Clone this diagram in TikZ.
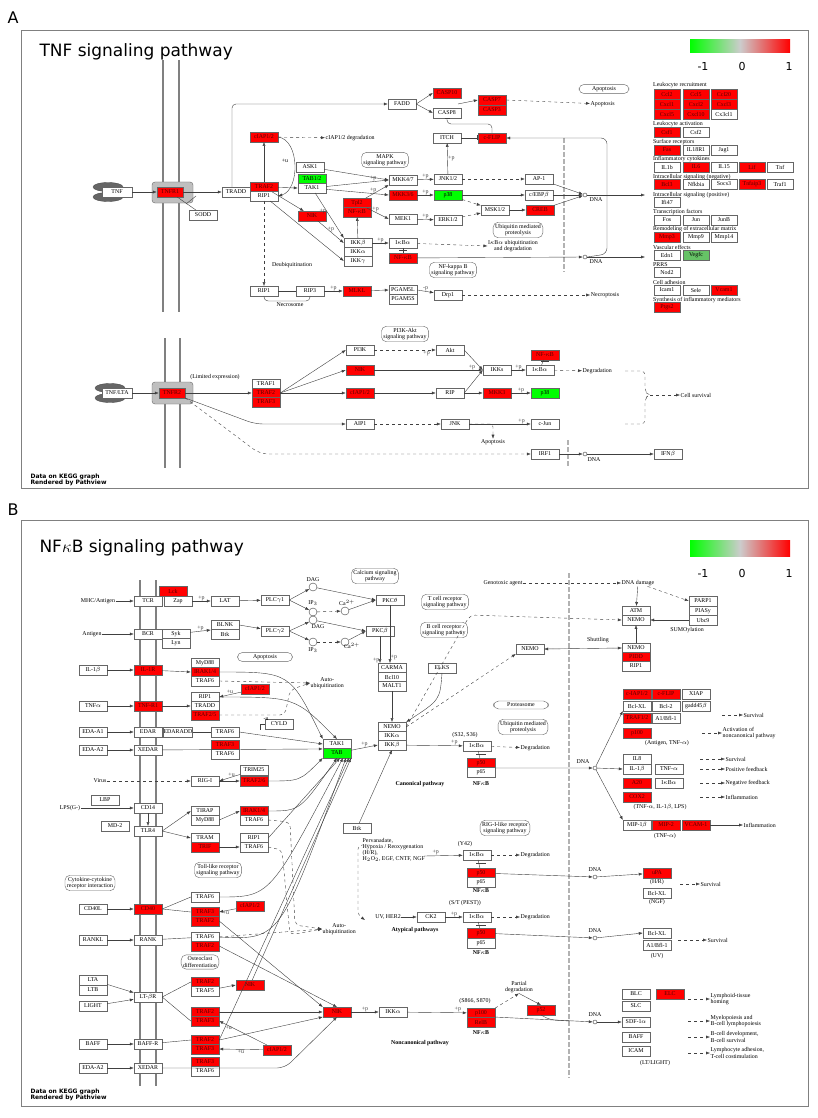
\documentclass[tikz,border=0pt]{standalone}
\usepackage{fontspec}
\setmainfont{Liberation Serif}
\newfontfamily\sansf{DejaVu Sans}
\usetikzlibrary{arrows.meta,shapes.geometric,decorations.pathreplacing}
\newcommand\kf{\fontsize{5.9}{6.1}\selectfont}
\begin{document}
\begin{tikzpicture}[x=1pt,y=-1pt,
 g/.style={draw=black!60,fill=white,minimum width=28pt,minimum height=9.5pt,inner sep=0pt,font=\kf},
 r/.style={g,fill=red,text=red!35!black},
 gr/.style={g,fill=green},
 pw/.style={draw=black!60,rounded corners=5pt,align=center,font=\kf,inner sep=2pt},
 t/.style={font=\kf,inner sep=0.5pt,align=center},
 tb/.style={font=\kf\bfseries,inner sep=0.5pt},
 a/.style={-{Latex[length=4pt,width=3pt]},black!75},
 da/.style={a,dashed},
 ln/.style={black!75},
 inh/.style={-{Bar[width=5pt]},black!75},
 dc/.style={circle,draw=black!75,fill=white,inner sep=0pt,minimum size=4pt},
 mem/.style={black!50,line width=1.3pt},
 lig/.style={ellipse,fill=black!60,draw=black!70,minimum width=30pt,minimum height=9pt,inner sep=0pt},
 rec/.style={rounded corners=3pt,fill=black!25,draw=black!60},
 frame/.style={draw=black!50,line width=0.8pt},
 cat/.style={font=\kf,anchor=west,inner sep=0pt},
 sm/.style={g,minimum width=26pt},
 smr/.style={g,minimum width=26pt,fill=red,text=red!35!black}]
\useasboundingbox (0,0) rectangle (818,1118);
\fill[white] (0,0) rectangle (818,1118);
% ================= PANEL A =================
\node[font=\sansf\fontsize{16}{16}\selectfont,anchor=west] (labA) at (4,18) {A};
\draw[frame] (21,30) rectangle (808,488);
\node[font=\sansf\fontsize{17}{17}\selectfont,anchor=west] (titA) at (36,52) {TNF signaling pathway};
\shade[left color=green,right color=black!20] (690,40) rectangle (740,53);
\shade[left color=black!20,right color=red] (740,40) rectangle (790,53);
\node[font=\sansf\fontsize{11}{11}\selectfont] (lmA) at (703,66) {-1};
\node[font=\sansf\fontsize{11}{11}\selectfont] (l0A) at (742,66) {0};
\node[font=\sansf\fontsize{11}{11}\selectfont] (l1A) at (789,66) {1};
% membranes
\draw[mem] (163,60) -- (163,312); \draw[mem] (179,60) -- (179,312);
\draw[mem] (165,338) -- (165,468); \draw[mem] (180,338) -- (180,468);
% ligand / receptor
\node[lig] (tnfe1) at (108,187) {}; \node[lig] (tnfe2) at (108,197) {};
\node[g,minimum width=30pt] (tnf) at (117,192) {TNF};
\draw[rec] (152,182) rectangle (193,203);
\node[r,minimum width=26pt] (tnfr1) at (170,192) {TNFR1};
\node[g] (sodd) at (203,215) {SODD};
\node[g] (tradd) at (236,192) {TRADD};
\node[r] (traf2) at (264,187) {TRAF2};
\node[g] (rip1) at (264,196) {RIP1};
\node[r] (ciap) at (264,137) {cIAP1/2};
\node[t,anchor=west] (ciapdeg) at (325,138) {cIAP1/2 degradation};
\node[t] (pu1) at (285,161) {+u};
\node[g] (ask1) at (310,167) {ASK1};
\node[gr] (tab12) at (312,179) {TAB1/2};
\node[g] (tak1) at (312,188) {TAK1};
\node[pw] (mapk) at (385,160) {MAPK\\signaling pathway};
\node[g] (mkk47) at (403,180) {MKK4/7};
\node[r] (mkk36) at (403,195) {MKK3/6};
\node[r] (tpl2) at (357,203) {Tpl2};
\node[r] (nfkbt) at (357,212) {NF-$\kappa$B};
\node[r] (nikA) at (312,216) {NIK};
\node[g] (mek1) at (403,219) {MEK1};
\node[g] (ikkb) at (358,243) {IKK$\beta$};
\node[g] (ikka) at (358,252) {IKK$\alpha$};
\node[g] (ikkg) at (358,261) {IKK$\gamma$};
\node[g] (ikbaA) at (403,243) {I$\kappa$B$\alpha$};
\node[r] (nfkbA) at (403,258) {NF-$\kappa$B};
\node[t] (deub) at (292,265) {Deubiquitination};
\node[g] (rip1b) at (264,291) {RIP1};
\node[g] (rip3) at (310,291) {RIP3};
\node[r] (mlkl) at (357,291) {MLKL};
\node[g] (pgam5l) at (403,290) {PGAM5L};
\node[g] (pgam5s) at (403,299) {PGAM5S};
\node[t] (necro) at (290,305) {Necrosome};
\node[g] (fadd) at (402,104) {FADD};
\node[r] (casp10) at (447,93) {CASP10};
\node[g] (casp8) at (447,113) {CASP8};
\node[r] (casp7) at (492,100) {CASP7};
\node[r] (casp3) at (492,110) {CASP3};
\node[t,anchor=west] (apopt) at (590,104) {Apoptosis};
\node[pw,minimum width=50pt] (apopw) at (604,89) {Apoptosis};
\node[g] (itch) at (447,138) {ITCH};
\node[r] (cflip) at (492,138) {c-FLIP};
\node[g] (jnk12) at (448,179) {JNK1/2};
\node[g] (ap1) at (539,179) {AP-1};
\node[gr] (p38) at (448,195) {p38};
\node[g] (cebp) at (539,195) {c/EBP$\beta$};
\node[g] (msk) at (495,210) {MSK1/2};
\node[g] (erk) at (448,220) {ERK1/2};
\node[r] (creb) at (540,210) {CREB};
\draw[black!30,line width=2.5pt,dash pattern=on 5pt off 2pt] (564,138) -- (564,272);
\node[dc] (dna1) at (585,195) {}; \node[t] (dna1t) at (596,200) {DNA};
\node[dc] (dna2) at (585,257) {}; \node[t] (dna2t) at (596,262) {DNA};
\node[pw] (ubq) at (518,230) {Ubiquitin mediated\\proteolysis};
\node[t] (ikbdeg) at (513,246) {I$\kappa$B$\alpha$ ubiquitination\\and degradation};
\node[pw] (nfkbpw) at (453,270) {NF-kappa B\\signaling pathway};
\node[g] (drp1) at (448,295) {Drp1};
\node[t] (necropt) at (605,295) {Necroptosis};
\coordinate (listin1) at (645,195); \coordinate (listin2) at (645,257);
% right list
\newcommand\catl[3]{\node[cat] (#1) at (653,#2) {#3};}
\catl{c1}{85}{Leukocyte recruitment}
\catl{c2}{124}{Leukocyte activation}
\catl{c3}{142}{Surface receptors}
\catl{c4}{159}{Inflammatory cytokines}
\catl{c5}{177}{Intracellular signaling (negative)}
\catl{c6}{195}{Intracellular signaling (positive)}
\catl{c7}{212}{Transcription factors}
\catl{c8}{229}{Remodeling of extracellular matrix}
\catl{c9}{247}{Vascular effects}
\catl{c10}{265}{PRRS}
\catl{c11}{282}{Cell adhesion}
\catl{c12}{300}{Synthesis of inflammatory mediators}
\node[smr] (ccl2) at (667,94) {Ccl2}; \node[smr] (ccl5) at (696,94) {Ccl5}; \node[smr] (ccl20) at (724,94) {Ccl20};
\node[smr] (cxcl1) at (667,104) {Cxcl1}; \node[smr] (cxcl2) at (696,104) {Cxcl2}; \node[smr] (cxcl3) at (724,104) {Cxcl3};
\node[smr] (cxcl5) at (667,114) {Cxcl5}; \node[smr] (cxcl10) at (696,114) {Cxcl10}; \node[sm] (cx3cl1) at (724,114) {Cx3cl1};
\node[smr] (csf1) at (667,132) {Csf1}; \node[sm] (csf2) at (696,132) {Csf2};
\node[smr] (fas) at (667,150) {Fas}; \node[sm] (il18r1) at (696,150) {IL18R1}; \node[sm] (jag1) at (724,150) {Jag1};
\node[sm] (il1b) at (667,167) {IL1b}; \node[smr] (il6) at (696,167) {IL6}; \node[sm] (il15) at (724,167) {IL15}; \node[smr] (lif) at (752,167) {Lif}; \node[sm] (tnfg) at (780,167) {Tnf};
\node[smr] (bcl3) at (667,184) {Bcl3}; \node[sm] (nfkbia) at (696,184) {Nfkbia}; \node[sm] (socs3) at (724,184) {Socs3}; \node[smr] (tnfaip3) at (752,184) {Tnfaip3}; \node[sm] (traf1g) at (780,184) {Traf1};
\node[sm] (ifi47) at (667,202) {Ifi47};
\node[sm] (fos) at (667,220) {Fos}; \node[sm] (jun) at (696,220) {Jun}; \node[sm] (junb) at (724,220) {JunB};
\node[smr] (mmp3) at (667,237) {Mmp3}; \node[sm] (mmp9) at (696,237) {Mmp9}; \node[sm] (mmp14) at (724,237) {Mmp14};
\node[sm] (edn1) at (667,255) {Edn1}; \node[sm,fill=green!60!black!60!white] (vegfc) at (696,255) {Vegfc};
\node[sm] (nod2) at (667,272) {Nod2};
\node[sm] (icam1) at (667,290) {Icam1}; \node[sm] (sele) at (696,290) {Sele}; \node[smr] (vcam1) at (724,290) {Vcam1};
\node[smr] (ptgs2) at (667,307) {Ptgs2};
% edges A
\draw[a] (tnf) -- (tnfr1);
\draw[a] (tnfr1) -- (tradd);
\draw[ln] (tnfr1) -- (sodd); \draw[ln] (186,204) -- (196,196);
\draw[a,rounded corners=4pt] ([xshift=-4pt]tradd.north) |- (fadd);
\draw[a] (fadd.east) -- (casp10.west); \draw[a] (fadd.east) -- (casp8.west);
\draw[a] (traf2) -- (ciap);
\draw[da] (ciap) -- (ciapdeg);
\draw[a] (ciap.east) .. controls (300,140) and (300,190) .. (rip1.east);
\draw[a] (traf2) -- (tak1.west);
\draw[a] (traf2) -- (nikA);
\draw[a] (rip1) -- (ikkg.west);
\draw[a] (ask1) -- (mkk47.west);
\draw[a] (tak1) -- (mkk47.west) node[t,pos=0.75,above] {+p};
\draw[a] (tak1) -- (mkk36.west) node[t,pos=0.75,above] {+p};
\draw[a] (tak1) -- (ikkb.north west) node[t,pos=0.4,left] {+p};
\draw[a] (nikA) -- (ikkb.west) node[t,pos=0.5,above] {+p};
\draw[a] (tpl2) -- (mkk47.south west);
\draw[a] (tpl2) -- (mek1.west) node[t,pos=0.4,above] {+p};
\draw[a] (ikkb) -- (nfkbt);
\draw[a] (ikkb) -- (ikbaA) node[t,midway,above] {+p};
\draw[ln] (ikbaA) -- (nfkbA); \draw[ln] (399,250) -- (407,250);
\draw[da] (ikbaA) -- (ikbdeg.west);
\draw[a] (nfkbA) -- (dna2);
\draw[a] (mkk47) -- (jnk12) node[t,midway,above] {+p};
\draw[a] (mkk36) -- (p38) node[t,midway,above] {+p};
\draw[a] (mek1) -- (erk) node[t,midway,above] {+p};
\draw[da] (jnk12) -- (ap1);
\draw[a] (p38) -- (cebp);
\draw[da] (p38) -- (msk);
\draw[da] (erk) -- (msk);
\draw[a] (msk) -- (creb);
\draw[a] (ap1) -- (dna1); \draw[a] (cebp) -- (dna1); \draw[a] (creb) -- (dna1);
\draw[a] (dna1) -- (listin1); \draw[a] (dna2) -- (listin2);
\draw[a,rounded corners=6pt] (dna2.east) -- (607,254) -- (607,138) -- (cflip.east);
\draw[inh] (itch) -- (cflip);
\draw[a] (jnk12) -- (itch) node[t,midway,right] {+p};
\draw[inh,rounded corners=4pt] (cflip.north) |- (447,124) -- (casp8.south);
\draw[a] (458,104) -- (casp7.west);
\draw[da] (casp7.east) -- (apopt);
\draw[da] (rip1) -- (rip1b);
\draw[ln] (rip1b) -- (rip3);
\draw[ln,rounded corners=4pt] (rip1b.south) -- ++(0,5) -- (310,301) -- (rip3.south);
\draw[a] (rip3) -- (mlkl) node[t,midway,above] {+p};
\draw[a] (mlkl) -- (pgam5l.west);
\draw[a] (pgam5l.east) -- (drp1) node[t,midway,above] {-p};
\draw[da] (drp1) -- (necropt);
% lower A
\node[lig] (ltae1) at (110,388) {}; \node[lig] (ltae2) at (110,398) {};
\node[g,minimum width=30pt] (tnflta) at (117,393) {TNF/LTA};
\draw[rec] (152,382) rectangle (193,404);
\node[r,minimum width=26pt] (tnfr2) at (172,393) {TNFR2};
\node[t] (limexp) at (215,377) {(Limited expression)};
\node[g] (traf1b) at (266,384) {TRAF1};
\node[r] (traf2b) at (266,393) {TRAF2};
\node[r] (traf3b) at (266,402) {TRAF3};
\node[pw] (pi3kpw) at (405,334) {PI3K-Akt\\signaling pathway};
\node[g] (pi3k) at (360,350) {PI3K};
\node[g] (akt) at (450,350) {Akt};
\node[r] (nikA2) at (360,370) {NIK};
\node[g] (ikks) at (497,370) {IKKs};
\node[g] (ikbaA2) at (540,370) {I$\kappa$B$\alpha$};
\node[r] (nfkbA2) at (545,355) {NF-$\kappa$B};
\node[t,anchor=west] (degA) at (582,371) {Degradation};
\node[r] (ciapA2) at (360,393) {cIAP1/2};
\node[g] (ripA) at (450,393) {RIP};
\node[r] (mkk3) at (497,393) {MKK3};
\node[gr] (p38b) at (545,393) {p38};
\node[g] (aip1) at (360,424) {AIP1};
\node[g] (jnkA) at (455,424) {JNK};
\node[g] (cjun) at (545,424) {c-Jun};
\node[t] (apoA) at (493,442) {Apoptosis};
\node[g] (irf1) at (545,454) {IRF1};
\draw[black!30,line width=2.5pt,dash pattern=on 5pt off 2pt] (568,440) -- (568,466);
\node[dc] (dna3) at (585,454) {}; \node[t] (dna3t) at (594,460) {DNA};
\node[g] (ifnb) at (668,454) {IFN$\beta$};
\node[t,anchor=west] (cellsurv) at (680,395) {Cell survival};
\draw[a] (tnflta) -- (tnfr2);
\draw[a] (tnfr2) -- (traf2b);
\draw[a] (traf2b.east) -- (pi3k.west);
\draw[a] (traf2b.east) -- (nikA2.west);
\draw[a] (traf2b) -- (ciapA2);
\draw[da] (pi3k) -- (akt) node[t,pos=0.85,below] {+p};
\draw[a] (akt.east) -- (ikks.west);
\draw[a] (nikA2) -- (ikks) node[t,pos=0.9,above] {+p};
\draw[a] (ciapA2) -- (ripA);
\draw[a] (ripA.east) -- (ikks.west);
\draw[a] (ripA) -- (mkk3);
\draw[a] (mkk3) -- (p38b) node[t,midway,above] {+p};
\draw[a] (ikks) -- (ikbaA2) node[t,midway,above] {+p};
\draw[ln] (ikbaA2) -- (nfkbA2); \draw[ln] (541,361) -- (549,361);
\draw[da] (ikbaA2) -- (degA);
\draw[a,rounded corners=8pt] (tnfr2.south east) -- (255,424) -- (aip1);
\draw[da] (aip1) -- (jnkA);
\draw[a] (jnkA) -- (cjun) node[t,pos=0.85,above] {+p};
\draw[da,rounded corners=3pt] (jnkA.east) -| (apoA.north);
\draw[da,rounded corners=8pt] (tnfr2.south east) -- (260,454) -- (irf1);
\draw[a] (irf1) -- (dna3);
\draw[a] (dna3) -- (ifnb);
\draw[dashed,black!75,rounded corners=4pt] (625,371) -- (645,371) -- (645,392) -- (650,395) -- (645,398) -- (645,424) -- (625,424);
\draw[da] (650,395) -- (cellsurv);
\node[font=\sansf\bfseries\fontsize{6}{6}\selectfont,anchor=west,align=left] (dataA) at (27,480) {Data on KEGG graph\\Rendered by Pathview};
% ================= PANEL B =================
\node[font=\sansf\fontsize{16}{16}\selectfont,anchor=west] (labB) at (4,510) {B};
\draw[frame] (21,520) rectangle (808,1106);
\node[font=\sansf\fontsize{17}{17}\selectfont,anchor=west] (titB) at (36,548) {NF$\kappa$B signaling pathway};
\shade[left color=green,right color=black!20] (690,540) rectangle (740,556);
\shade[left color=black!20,right color=red] (740,540) rectangle (790,556);
\node[font=\sansf\fontsize{11}{11}\selectfont] (lmB) at (703,573) {-1};
\node[font=\sansf\fontsize{11}{11}\selectfont] (l0B) at (742,573) {0};
\node[font=\sansf\fontsize{11}{11}\selectfont] (l1B) at (789,573) {1};
\draw[mem] (140,580) -- (140,1086); \draw[mem] (156,580) -- (156,1086);
\draw[black!30,line width=2.5pt,dash pattern=on 5pt off 2pt] (569,573) -- (569,1078);
% TCR/BCR
\node[t] (mhc) at (98,601) {MHC/Antigen};
\node[g] (tcr) at (148,601) {TCR};
\node[g] (zap) at (178,601) {Zap};
\node[r] (lck) at (173,591) {Lck};
\node[g] (lat) at (225,601) {LAT};
\node[g] (plcg1) at (275,600) {PLC$\gamma$1};
\node[dc,minimum size=8pt] (dag1) at (313,587) {}; \node[t] (dag1t) at (313,580) {DAG};
\node[dc,minimum size=8pt] (ip31) at (313,612) {}; \node[t] (ip31t) at (313,603) {IP$_3$};
\node[dc,minimum size=8pt] (ca1) at (345,611) {}; \node[t] (ca1t) at (347,603) {Ca$^{2+}$};
\node[g] (pkct) at (390,600) {PKC$\theta$};
\node[t] (antig) at (92,634) {Antigen};
\node[g] (bcr) at (148,634) {BCR};
\node[g] (syk) at (176,634) {Syk};
\node[g] (lyn) at (176,643) {Lyn};
\node[g] (blnk) at (225,625) {BLNK};
\node[g] (btk1) at (225,634) {Btk};
\node[g] (plcg2) at (275,631) {PLC$\gamma$2};
\node[dc,minimum size=8pt] (dag2) at (313,620) {}; \node[t] (dag2t) at (318,627) {DAG};
\node[dc,minimum size=8pt] (ip32) at (313,642) {}; \node[t] (ip32t) at (313,650) {IP$_3$};
\node[dc,minimum size=8pt] (ca2) at (345,642) {}; \node[t] (ca2t) at (352,646) {Ca$^{2+}$};
\node[g] (pkcb) at (380,631) {PKC$\beta$};
\node[pw] (calc) at (375,576) {Calcium signaling\\pathway};
\node[pw] (tcrpw) at (445,602) {T cell receptor\\signaling pathway};
\node[pw] (bcrpw) at (444,630) {B cell receptor\\signaling pathway};
\node[pw,minimum width=55pt] (apopB) at (265,657) {Apoptosis};
\node[g] (carma) at (392,668) {CARMA};
\node[g] (bcl10) at (392,677) {Bcl10};
\node[g] (malt1) at (392,686) {MALT1};
\node[g] (elks) at (442,668) {ELKS};
\node[g] (nemo) at (392,727) {NEMO};
\node[g] (ikkaB) at (392,736) {IKK$\alpha$};
\node[g] (ikkbB) at (392,745) {IKK$\beta$};
% receptors
\node[g] (il1b) at (93,670) {IL-1$\beta$};
\node[r] (il1r) at (148,670) {IL-1R};
\node[g] (myd88a) at (205,663) {MyD88};
\node[r] (irak1) at (205,672) {IRAK1/4};
\node[g] (traf6a) at (205,681) {TRAF6};
\node[t,anchor=west] (autoub1) at (310,683) {Auto-\\ubiquitination};
\node[r] (ciapB1) at (255,689) {cIAP1/2};
\node[g] (rip1B) at (205,697) {RIP1};
\node[g] (traddB) at (205,706) {TRADD};
\node[r] (traf25) at (205,715) {TRAF2/5};
\node[g] (tnfa) at (93,706) {TNF$\alpha$};
\node[r] (tnfr1B) at (148,706) {TNF-R1};
\node[g] (edaa1) at (93,732) {EDA-A1};
\node[g] (edar) at (148,732) {EDAR};
\node[g] (edaradd) at (178,732) {EDARADD};
\node[g] (traf6b) at (225,732) {TRAF6};
\node[g] (cyld) at (279,724) {CYLD};
\node[g] (edaa2) at (93,750) {EDA-A2};
\node[g] (xedar) at (148,750) {XEDAR};
\node[r] (traf3a) at (225,745) {TRAF3};
\node[g] (traf6c) at (225,754) {TRAF6};
\node[g] (tak1B) at (337,744) {TAK1};
\node[gr] (tab) at (337,753) {TAB};
\node[t] (virus) at (100,781) {Virus};
\node[g] (rigi) at (205,781) {RIG-I};
\node[g] (trim25) at (254,770) {TRIM25};
\node[r] (traf26) at (254,781) {TRAF2/6};
\node[g] (lbp) at (105,800) {LBP};
\node[t] (lps) at (70,808) {LPS(G-)};
\node[g] (cd14) at (148,808) {CD14};
\node[g] (md2) at (115,826) {MD-2};
\node[g] (tlr4) at (148,831) {TLR4};
\node[g] (tirap) at (205,811) {TIRAP};
\node[g] (myd88b) at (205,820) {MyD88};
\node[r] (irak2) at (254,811) {IRAK1/4};
\node[g] (traf6d) at (254,820) {TRAF6};
\node[g] (tram) at (205,838) {TRAM};
\node[r] (trif) at (205,847) {TRIF};
\node[g] (rip1c) at (254,838) {RIP1};
\node[g] (traf6e) at (254,847) {TRAF6};
\node[g] (btk2) at (357,828) {Btk};
\node[pw] (tlrpw) at (218,870) {Toll-like receptor\\signaling pathway};
\node[pw] (ccrpw) at (90,883) {Cytokine-cytokine\\receptor interaction};
\node[g] (cd40l) at (93,909) {CD40L};
\node[r] (cd40) at (148,909) {CD40};
\node[g] (traf6f) at (205,897) {TRAF6};
\node[r] (traf3c) at (205,912) {TRAF3};
\node[r] (traf2c) at (205,921) {TRAF2};
\node[r] (ciapB2) at (250,906) {cIAP1/2};
\node[g] (rankl) at (93,940) {RANKL};
\node[g] (rank) at (148,940) {RANK};
\node[g] (traf6g) at (205,937) {TRAF6};
\node[r] (traf2d) at (205,946) {TRAF2};
\node[t,anchor=west] (autoub2) at (322,929) {Auto-\\ubiquitination};
\node[pw] (osteo) at (200,962) {Osteoclast\\differentiation};
\node[g] (lta) at (93,980) {LTA};
\node[g] (ltb) at (93,990) {LTB};
\node[g] (light) at (93,1006) {LIGHT};
\node[g] (ltbr) at (148,997) {LT-$\beta$R};
\node[r] (traf2e) at (205,982) {TRAF2};
\node[g] (traf5) at (205,991) {TRAF5};
\node[r] (nikB1) at (250,985) {NIK};
\node[r] (traf2f) at (205,1012) {TRAF2};
\node[r] (traf3d) at (205,1021) {TRAF3};
\node[r] (nikB) at (337,1012) {NIK};
\node[g] (ikkaC) at (393,1012) {IKK$\alpha$};
\node[g] (baff) at (93,1044) {BAFF};
\node[g] (baffr) at (148,1044) {BAFF-R};
\node[r] (traf2g) at (205,1040) {TRAF2};
\node[r] (traf3e) at (205,1049) {TRAF3};
\node[r] (ciapB3) at (277,1050) {cIAP1/2};
\node[g] (edaa2b) at (93,1068) {EDA-A2};
\node[g] (xedarb) at (148,1068) {XEDAR};
\node[r] (traf3f) at (205,1062) {TRAF3};
\node[g] (traf6h) at (205,1071) {TRAF6};
\node[font=\sansf\bfseries\fontsize{6}{6}\selectfont,anchor=west,align=left] (dataB) at (27,1095) {Data on KEGG graph\\Rendered by Pathview};
% right side B
\node[t] (genotox) at (503,583) {Genotoxic agent};
\node[t] (dnadam) at (638,583) {DNA damage};
\node[g] (atm) at (636,611) {ATM};
\node[g] (nemo2) at (636,620) {NEMO};
\node[g] (parp1) at (703,601) {PARP1};
\node[g] (piasy) at (703,611) {PIASy};
\node[g] (ubc9) at (703,620) {Ubc9};
\node[t] (sumo) at (687,630) {SUMOylation};
\node[t] (shut) at (598,640) {Shuttling};
\node[g] (nemo3) at (530,649) {NEMO};
\node[g] (nemo4) at (636,648) {NEMO};
\node[r] (pidd) at (636,657) {PIDD};
\node[g] (rip1d) at (636,666) {RIP1};
\node[pw,minimum width=55pt] (prot) at (521,705) {Proteasome};
\node[pw] (ubqB) at (523,727) {Ubiquitin mediated\\proteolysis};
\node[t] (s3236) at (465,735) {(S32, S36)};
\node[g] (ikbaB1) at (477,746) {I$\kappa$B$\alpha$};
\node[t,anchor=west] (degB1) at (520,748) {Degradation};
\node[r] (p50a) at (481,763) {p50};
\node[g] (p65a) at (481,772) {p65};
\node[tb] (nfkb1) at (481,784) {NF$\kappa$B};
\node[tb] (canon) at (420,784) {Canonical pathway};
\node[dc] (dnaB1) at (595,768) {}; \node[t] (dnaB1t) at (583,762) {DNA};
\node[r] (ciap12) at (637,694) {c-IAP1/2};
\node[r] (cflipB) at (666,694) {c-FLIP};
\node[g] (xiap) at (696,694) {XIAP};
\node[g] (bclxl1) at (637,706) {Bcl-XL};
\node[g] (bcl2) at (666,706) {Bcl-2};
\node[g] (gadd) at (696,706) {gadd45$\beta$};
\node[r] (traf12) at (637,718) {TRAF1/2};
\node[g] (a1bfl) at (666,718) {A1/Bfl-1};
\node[r] (p100a) at (637,733) {p100};
\node[t] (antig2) at (667,743) {(Antigen, TNF-$\alpha$)};
\node[g] (il8) at (637,759) {IL8};
\node[g] (il1bB) at (637,769) {IL-1$\beta$};
\node[g] (tnfaB) at (669,769) {TNF-$\alpha$};
\node[r] (a20) at (637,783) {A20};
\node[g] (ikbaB4) at (669,783) {I$\kappa$B$\alpha$};
\node[r] (cox2) at (637,797) {COX2};
\node[t] (tnfil) at (660,807) {(TNF-$\alpha$, IL-1$\beta$, LPS)};
\node[g] (mip1b) at (637,825) {MIP-1$\beta$};
\node[r] (mip2) at (666,825) {MIP-2};
\node[r] (vcam1B) at (696,825) {VCAM-1};
\node[t] (tnfa2) at (665,836) {(TNF-$\alpha$)};
\node[t,anchor=west] (surv1) at (743,715) {Survival};
\node[t,anchor=west,align=left] (actnc) at (722,733) {Activation of\\noncanonical pathway};
\node[t,anchor=west] (surv2) at (725,759) {Survival};
\node[t,anchor=west] (posfb) at (725,769) {Positive feedback};
\node[t,anchor=west] (negfb) at (725,783) {Negative feedback};
\node[t,anchor=west] (infl1) at (725,797) {Inflammation};
\node[t,anchor=west] (infl2) at (743,825) {Inflammation};
\node[pw] (rigpw) at (505,828) {RIG-I-like receptor\\signaling pathway};
\node[t,anchor=west,align=left] (perv) at (362,850) {Pervanadate,\\Hypoxia / Reoxygenation\\(H/R),\\H$_2$O$_2$, EGF, CNTF, NGF};
\node[t] (y42) at (465,844) {(Y42)};
\node[g] (ikbaB2) at (477,855) {I$\kappa$B$\alpha$};
\node[t,anchor=west] (degB2) at (520,855) {Degradation};
\node[r] (p50b) at (481,873) {p50};
\node[g] (p65b) at (481,882) {p65};
\node[tb] (nfkb2) at (481,891) {NF$\kappa$B};
\node[dc] (dnaB2) at (595,877) {}; \node[t] (dnaB2t) at (595,870) {DNA};
\node[r] (upa) at (657,873) {uPA};
\node[t] (hr) at (657,882) {(H/R)};
\node[g] (bclxl2) at (657,893) {Bcl-XL};
\node[t] (ngf) at (657,902) {(NGF)};
\node[t,anchor=west] (surv3) at (700,884) {Survival};
\node[t] (uvher) at (388,917) {UV, HER2};
\node[g] (ck2) at (431,917) {CK2};
\node[t] (stpest) at (465,903) {(S/T (PEST))};
\node[g] (ikbaB3) at (477,917) {I$\kappa$B$\alpha$};
\node[t,anchor=west] (degB3) at (520,917) {Degradation};
\node[r] (p50c) at (481,933) {p50};
\node[g] (p65c) at (481,943) {p65};
\node[tb] (nfkb3) at (481,953) {NF$\kappa$B};
\node[tb] (atyp) at (415,930) {Atypical pathways};
\node[dc] (dnaB3) at (595,938) {}; \node[t] (dnaB3t) at (595,931) {DNA};
\node[g] (bclxl3) at (657,933) {Bcl-XL};
\node[g] (a1bfl2) at (657,945) {A1/Bfl-1};
\node[t] (uv) at (657,956) {(UV)};
\node[t,anchor=west] (surv4) at (707,940) {Survival};
\node[t] (s866) at (475,1001) {(S866, S870)};
\node[r] (p100b) at (481,1013) {p100};
\node[r] (relb) at (481,1022) {RelB};
\node[tb] (nfkb4) at (481,1033) {NF$\kappa$B};
\node[tb] (noncanon) at (420,1043) {Noncanonical pathway};
\node[t] (partdeg) at (519,987) {Partial\\degradation};
\node[r] (p52) at (541,1010) {p52};
\node[dc] (dnaB4) at (595,1022) {}; \node[t] (dnaB4t) at (595,1015) {DNA};
\node[g] (blc) at (636,994) {BLC};
\node[r] (elc) at (670,994) {ELC};
\node[g] (slc) at (636,1006) {SLC};
\node[g] (sdf) at (636,1022) {SDF-1$\alpha$};
\node[g] (baffB) at (636,1037) {BAFF};
\node[g] (icam) at (636,1051) {ICAM};
\node[t] (ltl) at (655,1063) {(LT/LIGHT)};
\node[t,anchor=west,align=left] (lymh) at (710,999) {Lymphoid-tissue\\homing};
\node[t,anchor=west,align=left] (myel) at (710,1021) {Myelopoiesis and\\B-cell lymphopoiesis};
\node[t,anchor=west,align=left] (bdev) at (710,1037) {B-cell development,\\B-cell survival};
\node[t,anchor=west,align=left] (lyad) at (710,1053) {Lymphocyte adhesion,\\T-cell costimulation};
% edges B
\draw[a] (mhc) -- (tcr); \draw[a] (antig) -- (bcr);
\draw[a] (zap) -- (lat) node[t,midway,above] {+p};
\draw[a] (lat) -- (plcg1);
\draw[a] (plcg1.east) -- (dag1); \draw[a] (plcg1.east) -- (ip31);
\draw[da] (ip31) -- (ca1);
\draw[a] (dag1) -- (pkct.west); \draw[a] (ca1) -- (pkct.west);
\draw[a] (syk) -- (blnk.south west) node[t,midway,above] {+p};
\draw[a] (blnk.east) -- (plcg2);
\draw[a] (plcg2.east) -- (dag2); \draw[a] (plcg2.east) -- (ip32);
\draw[da] (ip32) -- (ca2);
\draw[a] (dag2) -- (pkcb.west); \draw[a] (ca2) -- (pkcb.west);
\draw[a] (pkct) -- (pkct |- carma.north) node[t,pos=0.9,right] {+p};
\draw[a] (pkcb) -- (pkcb |- carma.north) node[t,pos=0.9,left] {+p};
\draw[a] (malt1) -- (nemo);
\draw[a] (il1b) -- (il1r); \draw[a] (il1r) -- (irak1.west);
\draw[a] (tnfa) -- (tnfr1B); \draw[a] (tnfr1B) -- (traddB.west);
\draw[a] (edaa1) -- (edar); \draw[ln] (edaradd) -- (traf6b);
\draw[a] (edaa2) -- (xedar);
\draw[a] (irak1.east) .. controls (290,672) .. (tak1B.north west);
\draw[a] (rip1B.east) .. controls (295,697) .. (tak1B.north);
\draw[da] (traf6a.east) -- (autoub1.west);
\draw[da,rounded corners=5pt] (traf25.east) -- (285,715) -- (290,690) -- (autoub1.west);
\draw[a] (ciapB1) -- (rip1B.east) node[t,pos=0.5,above] {+u};
\draw[ln] (cyld) -- (260,724) -- (260,730); \node[t] (mu) at (266,719) {-u};
\draw[a] (traf6b.east) -- (tak1B.west);
\draw[a] (xedar) -- (tak1B.south west);
\draw[da] (virus) -- (rigi);
\draw[a] (rigi) -- (traf26);
\draw[a] (trim25) -- (rigi.east) node[t,pos=0.4,above] {+u};
\draw[a] (traf26.east) .. controls (300,781) .. (tab.south west);
\draw[a] (lps) -- (cd14); \draw[a] (cd14) -- (tlr4);
\draw[a] (tlr4.east) -- (tirap.west); \draw[a] (tlr4.east) -- (tram.west);
\draw[a] (myd88b.east) -- (irak2.west);
\draw[a] (trif) -- (traf6e.west);
\draw[a] (irak2.east) .. controls (300,811) .. (tab.south);
\draw[a] (rip1c.east) -- ([xshift=3pt]tab.south);
\draw[a] (traf6f.east) .. controls (270,897) .. ([xshift=6pt]tab.south);
\draw[a] (traf6g.east) .. controls (280,940) .. ([xshift=9pt]tab.south);
\draw[a] (traf2g.east) -- ([xshift=12pt]tab.south);
\draw[da,rounded corners=5pt] (traf6d.east) -- (290,822) -- (295,925) -- (autoub2.west);
\draw[da,rounded corners=5pt] (traf6e.east) -- (282,850) -- (290,935) -- (autoub2.west);
\draw[da] (traf6g.east) -- (autoub2.west);
\draw[a] (tab) -- (ikkbB.west) node[t,midway,above] {+p};
\draw[a] (btk2) -- (ikkbB.south);
\draw[a] (elks.south) .. controls (440,700) .. (nemo.north east);
\draw[da] (nemo.east) -- (nemo3.south west);
\draw[da,rounded corners=5pt] (nemo.east) -- (470,615) -- (nemo2.west);
\draw[a] (cd40l) -- (cd40);
\draw[ln] (cd40.east) -- (traf6f.west); \draw[ln] (cd40.east) -- (traf3c.west);
\draw[a] (ciapB2) -- (traf3c.east) node[t,pos=0.6,below] {+u};
\draw[a] (traf2c.east) -- (nikB.north west);
\draw[a] (rankl) -- (rank); \draw[ln] (rank) -- (traf6g);
\draw[a] (traf2d.east) -- (nikB.north);
\draw[a] (lta) -- (ltbr); \draw[a] (light) -- (ltbr);
\draw[ln] (ltbr.east) -- (traf2e.west); \draw[ln] (ltbr.east) -- (traf3d.west);
\draw[a] (traf5) -- (nikB1.west);
\draw[a] (nikB1) -- (tab.south east);
\draw[a] (traf2f) -- (nikB);
\draw[a] (ciapB3) -- (traf3d.east) node[t,pos=0.8,below] {+u};
\draw[a] (ciapB3) -- (traf3e.east) node[t,pos=0.5,below] {+u};
\draw[a] (baff) -- (baffr); \draw[ln] (baffr) -- (traf2g.west);
\draw[a] (traf2g.east) -- (nikB.south west);
\draw[a] (edaa2b) -- (xedarb);
\draw[a,rounded corners=8pt] (xedarb.east) -- (285,1068) -- (nikB.south);
\draw[a] (nikB) -- (ikkaC) node[t,midway,above] {+p};
\draw[a] (ikkbB) -- (ikbaB1) node[t,pos=0.85,above] {+p};
\draw[ln] (ikbaB1) -- (p50a); \draw[ln] (476,754) -- (486,754);
\draw[da] (ikbaB1) -- (degB1);
\draw[a] (p50a.south east) -- (dnaB1);
\draw[a] (dnaB1) -- (bclxl1.south west);
\draw[a] (dnaB1) -- (il1bB.west);
\draw[a] (dnaB1) -- (mip1b.north west);
\draw[da] (genotox) -- (dnadam);
\draw[a] (dnadam) -- (atm);
\draw[da] (dnadam) -- (parp1.west);
\draw[a] (ubc9) -- (nemo2);
\draw[a] (nemo4) -- (nemo2);
\draw[da] (nemo3.east) -- (nemo4.west);
\draw[da] (nemo4.west) -- (nemo3.east);
\draw[da] (722,715) -- (surv1);
\draw[da] (702,733) -- (actnc);
\draw[da] (700,759) -- (surv2); \draw[da] (700,769) -- (posfb);
\draw[da] (700,783) -- (negfb); \draw[da] (700,797) -- (infl1);
\draw[a] (vcam1B) -- (infl2);
\draw[da,rounded corners=4pt] (370,845) -- (358,845) -- (358,915) -- (365,920);
\draw[a] (424,856) -- (ikbaB2) node[t,pos=0.3,above] {+p};
\draw[ln] (ikbaB2) -- (p50b); \draw[ln] (476,863) -- (486,863);
\draw[da] (ikbaB2) -- (degB2);
\draw[a] (p50b) -- (dnaB2); \draw[a] (dnaB2) -- (upa);
\draw[da] (680,884) -- (surv3);
\draw[a] (uvher) -- (ck2);
\draw[a] (ck2) -- (ikbaB3) node[t,pos=0.5,above] {+p};
\draw[ln] (ikbaB3) -- (p50c); \draw[ln] (476,925) -- (486,925);
\draw[da] (ikbaB3) -- (degB3);
\draw[a] (p50c) -- (dnaB3); \draw[a] (dnaB3) -- (bclxl3.west);
\draw[da] (678,940) -- (surv4);
\draw[a] (ikkaC) -- (p100b) node[t,pos=0.85,above] {+p};
\draw[da] (p100b.north east) -- (partdeg.south);
\draw[a] (partdeg.south) -- (p52.north);
\draw[a] (relb.north east) -- (dnaB4);
\draw[ln] (p52.south) .. controls (550,1020) .. (570,1021);
\draw[a] (dnaB4) -- (sdf);
\draw[da] (688,999) -- (lymh); \draw[da] (688,1021) -- (myel);
\draw[da] (688,1037) -- (bdev); \draw[da] (688,1053) -- (lyad);
\end{tikzpicture}
\end{document}
